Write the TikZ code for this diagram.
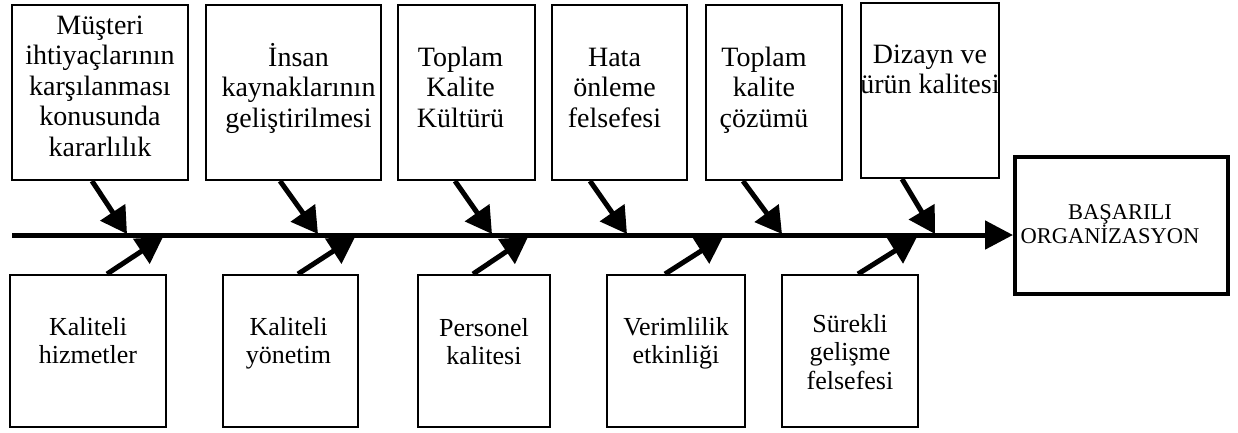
\documentclass[tikz,border=0pt]{standalone}
\usepackage{fontspec}
\setmainfont{Liberation Serif}
\usetikzlibrary{arrows.meta}
% centred multi-line cell whose baseline is its first line
\newcommand\celltext[1]{\parbox[t]{230pt}{\centering #1}}
\begin{document}
\begin{tikzpicture}[x=1pt,y=-1pt,
  box/.style={draw, line width=2pt, inner sep=0pt},
  topbox/.style={box, minimum height=175pt},
  botbox/.style={box, minimum height=152pt},
  goalbox/.style={draw, line width=4pt, inner sep=0pt, minimum width=213pt, minimum height=137pt},
  toptext/.style={anchor=base, inner sep=0pt, font=\fontsize{28}{30.5}\selectfont},
  bottext/.style={anchor=base, inner sep=0pt, font=\fontsize{26}{28.5}\selectfont},
  goaltext/.style={anchor=base, inner sep=0pt, font=\fontsize{22.5}{22.5}\selectfont},
  spine/.style={line width=5pt, -{Triangle[length=28pt,width=28pt]}},
  bone/.style={line width=5pt, -{Triangle[length=26pt,width=29pt]}},
]
\useasboundingbox (0,0) rectangle (1238,432);

% upper causes
\node[topbox, minimum width=176pt] (t1) at (100,92.5) {};
\node[topbox, minimum width=175pt] (t2) at (293.5,92.5) {};
\node[topbox, minimum width=137pt] (t3) at (466.5,92.5) {};
\node[topbox, minimum width=135pt] (t4) at (619.5,92.5) {};
\node[topbox, minimum width=136pt] (t5) at (774,92.5) {};
\node[topbox, minimum width=138pt] (t6) at (930,90.5) {};

\node[toptext] (t1x) at ([yshift=-30pt]t1.north) {\celltext{Müşteri\\ihtiyaçlarının\\karşılanması\\konusunda\\kararlılık}};
\node[toptext] (t2x) at ([xshift=5pt,yshift=-62pt]t2.north) {\celltext{İnsan\\kaynaklarının\\geliştirilmesi}};
\node[toptext] (t3x) at ([xshift=-6pt,yshift=-62pt]t3.north) {\celltext{Toplam\\Kalite\\Kültürü}};
\node[toptext] (t4x) at ([xshift=-5pt,yshift=-62pt]t4.north) {\celltext{Hata\\önleme\\felsefesi}};
\node[toptext] (t5x) at ([xshift=-10pt,yshift=-62pt]t5.north) {\celltext{Toplam\\kalite\\çözümü}};
\node[toptext] (t6x) at ([yshift=-61pt]t6.north) {\celltext{Dizayn ve\\ürün kalitesi}};

% lower causes
\node[botbox, minimum width=156pt] (b1) at (88,351) {};
\node[botbox, minimum width=135pt] (b2) at (290.5,351) {};
\node[botbox, minimum width=132pt] (b3) at (484,351) {};
\node[botbox, minimum width=138pt] (b4) at (676,351) {};
\node[botbox, minimum width=136pt] (b5) at (850,351) {};

\node[bottext] (b1x) at ([yshift=-61pt]b1.north) {\celltext{Kaliteli\\hizmetler}};
\node[bottext] (b2x) at ([xshift=-2pt,yshift=-61pt]b2.north) {\celltext{Kaliteli\\yönetim}};
\node[bottext] (b3x) at ([yshift=-62pt]b3.north) {\celltext{Personel\\kalitesi}};
\node[bottext] (b4x) at ([yshift=-61pt]b4.north) {\celltext{Verimlilik\\etkinliği}};
\node[bottext] (b5x) at ([yshift=-58pt]b5.north) {\celltext{Sürekli\\gelişme\\felsefesi}};

% effect
\node[goalbox] (goal) at (1121.5,225.5) {};
\node[goaltext] (goalx) at (1120,219) {\celltext{BAŞARILI\\\hspace*{-20pt}ORGANİZASYON}};

% spine
\coordinate (s0) at (12,235);
\draw[spine] (s0) -- (s0 -| goal.west);

% bones from the upper boxes
\coordinate (u1) at (127,234);
\coordinate (u2) at (318,234);
\coordinate (u3) at (492,234);
\coordinate (u4) at (627,234);
\coordinate (u5) at (782,234);
\coordinate (u6) at (935,234);
\draw[bone] ([xshift=-8pt]t1.south) -- (u1);
\draw[bone] ([xshift=-13.5pt]t2.south) -- (u2);
\draw[bone] ([xshift=-11.5pt]t3.south) -- (u3);
\draw[bone] ([xshift=-29.5pt]t4.south) -- (u4);
\draw[bone] ([xshift=-31pt]t5.south) -- (u5);
\draw[bone] ([xshift=-28pt]t6.south) -- (u6);

% bones from the lower boxes
\coordinate (d1) at (163,237);
\coordinate (d2) at (355,237);
\coordinate (d3) at (528,237);
\coordinate (d4) at (723,237);
\coordinate (d5) at (917,237);
\draw[bone] ([xshift=19pt]b1.north) -- (d1);
\draw[bone] ([xshift=7.5pt]b2.north) -- (d2);
\draw[bone] ([xshift=-11pt]b3.north) -- (d3);
\draw[bone] ([xshift=-11pt]b4.north) -- (d4);
\draw[bone] ([xshift=8pt]b5.north) -- (d5);
\end{tikzpicture}
\end{document}
